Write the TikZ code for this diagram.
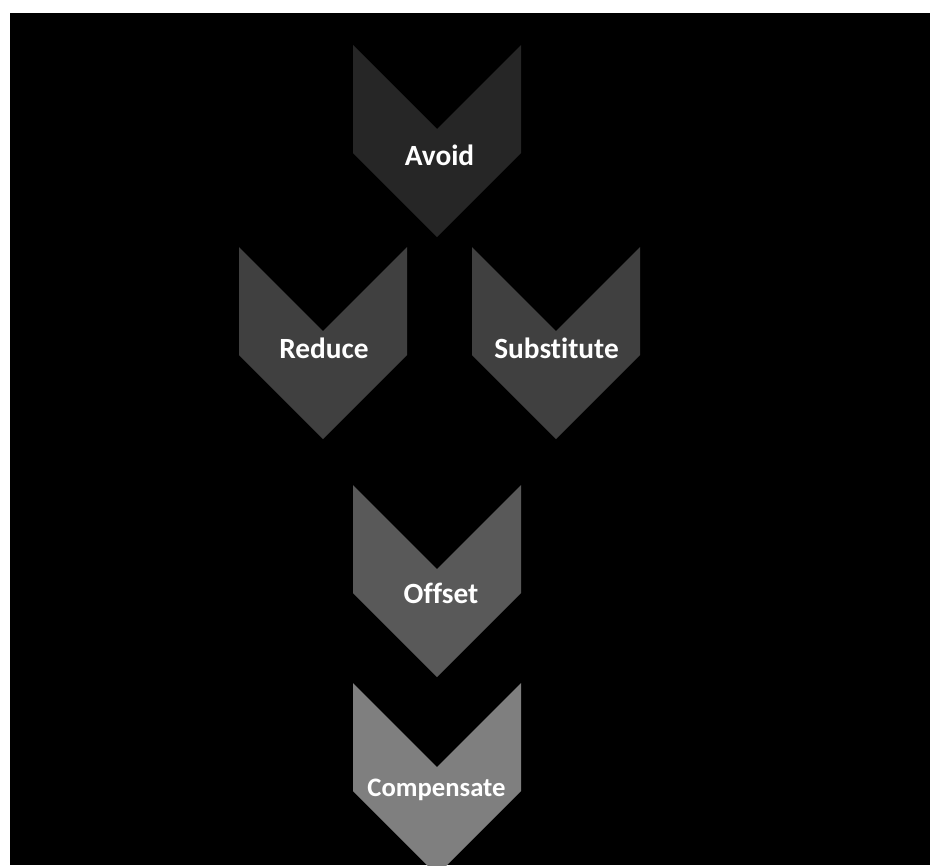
\documentclass[tikz,border=0pt]{standalone}
\usepackage{fontspec}
\setmainfont[Ligatures={NoCommon}]{Carlito}
\begin{document}
\begin{tikzpicture}[x=0.75pt,y=-0.75pt,
  label/.style={text=white,font=\bfseries\fontsize{22}{24}\selectfont,anchor=base,inner sep=0pt},
  smalllabel/.style={label,font=\bfseries\fontsize{20}{22}\selectfont}]
% chevron: left x, top y, fill colour
\newcommand\chevronshape[3]{%
  \fill[#3] (#1,#2) -- ++(84,84) -- ++(84,-84) -- ++(0,108) -- ++(-84,84) -- ++(-84,-84) -- cycle;}
\definecolor{stepA}{HTML}{262626}
\definecolor{stepB}{HTML}{404040}
\definecolor{stepC}{HTML}{595959}
\definecolor{stepD}{HTML}{7F7F7F}
\useasboundingbox (0,0) rectangle (930,865);
\clip (0,0) rectangle (930,865);
\fill[white] (0,0) rectangle (930,865);
\fill[black] (10,13) rectangle (930,865);
% chevrons
\chevronshape{353}{45}{stepA}
\chevronshape{239}{247}{stepB}
\chevronshape{472}{247}{stepB}
\chevronshape{353}{485}{stepC}
\chevronshape{353}{683}{stepD}
% labels
\node[label] (avoid) at (439.5,165) {Avoid};
\node[label] (reduce) at (324,358) {Reduce};
\node[label] (substitute) at (556.5,358) {Substitute};
\node[label] (offset) at (441,603) {Offset};
\node[smalllabel] (compensate) at (436.5,796.5) {Compensate};
\end{tikzpicture}
\end{document}
